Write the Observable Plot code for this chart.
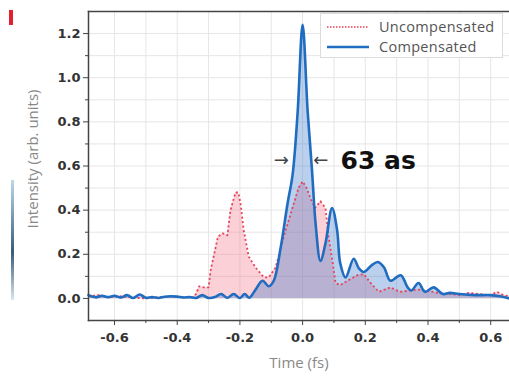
<!DOCTYPE html>
<html>
<head>
<meta charset="utf-8">
<script src="https://cdn.jsdelivr.net/npm/d3@7"></script>
<script src="https://cdn.jsdelivr.net/npm/@observablehq/plot@0.6"></script>
<style>
  html, body { margin: 0; padding: 0; background: #fff; }
  #wrap { position: relative; width: 509px; height: 376px; overflow: hidden; }
  #legend { position: absolute; left: 320px; top: 13px; width: 181px; height: 43px;
    border: 1px solid #dcdcdc; background: #fff; font-family: "Open Sans", sans-serif;
    font-size: 14.5px; letter-spacing: 0.3px; line-height: 16px; color: #555; }
  #legend .row { position: absolute; left: 6px; height: 16px; display: flex; align-items: center; }
  #legend .row span { margin-left: 10px; line-height: 16px; }
  .art1 { position: absolute; left: 9px; top: 10px; width: 4px; height: 15px; background: #e5202e; }
  .art2 { position: absolute; left: 11px; top: 180px; width: 3px; height: 120px;
    background: linear-gradient(#bcd9ea, #3a5b78 60%, #d8e6ef); }
</style>
</head>
<body>
<div id="wrap"><div class="art1"></div><div class="art2"></div></div>
<script>
// Compensated (blue) series
const compT = [-0.683,-0.66,-0.64,-0.62,-0.60,-0.58,-0.56,-0.54,-0.52,-0.50,-0.48,-0.46,-0.44,-0.42,-0.40,-0.38,-0.36,-0.34,-0.32,-0.30,-0.28,-0.26,-0.24,-0.22,-0.20,-0.185,-0.17,-0.15,-0.128,-0.108,-0.092,-0.07,-0.048,-0.032,-0.016,0,0.016,0.03,0.042,0.057,0.073,0.094,0.11,0.12,0.137,0.163,0.18,0.195,0.22,0.24,0.26,0.28,0.313,0.335,0.347,0.37,0.39,0.418,0.447,0.47,0.50,0.55,0.60,0.63,0.66];
const compV = [0.015,0.005,0.012,0.006,0.012,0.004,0.015,0.002,0.018,0.003,0.006,0.002,0.008,0.01,0.008,0.004,0.006,0.002,0.015,0.002,0.006,0.02,0.003,0.02,0.002,0.02,0.003,0.04,0.08,0.055,0.08,0.23,0.43,0.56,0.84,1.24,0.85,0.58,0.33,0.17,0.25,0.41,0.31,0.16,0.095,0.18,0.135,0.12,0.15,0.165,0.14,0.08,0.105,0.05,0.036,0.07,0.03,0.05,0.02,0.025,0.02,0.015,0.015,0.01,0.0];
// Uncompensated (red) series
const uncT = [-0.683,-0.65,-0.62,-0.58,-0.55,-0.50,-0.46,-0.42,-0.38,-0.35,-0.34,-0.33,-0.315,-0.30,-0.293,-0.27,-0.255,-0.24,-0.23,-0.214,-0.205,-0.198,-0.188,-0.172,-0.15,-0.124,-0.108,-0.086,-0.06,-0.028,-0.013,0,0.013,0.026,0.04,0.057,0.073,0.083,0.096,0.105,0.12,0.143,0.175,0.195,0.217,0.243,0.28,0.31,0.34,0.37,0.40,0.43,0.47,0.50,0.53,0.56,0.60,0.62,0.64,0.66];
const uncV = [0.01,0.015,0.005,0.01,0.005,0.0,0.005,0.01,0.005,0.005,0.02,0.055,0.05,0.05,0.13,0.28,0.295,0.286,0.40,0.48,0.48,0.43,0.31,0.19,0.14,0.096,0.095,0.14,0.28,0.43,0.50,0.53,0.50,0.45,0.41,0.44,0.41,0.28,0.16,0.07,0.06,0.08,0.105,0.11,0.07,0.03,0.05,0.03,0.035,0.04,0.035,0.025,0.02,0.015,0.025,0.02,0.015,0.03,0.015,0.01];
// Axis ticks
const xTicks = [-0.6,-0.4,-0.2,0.0,0.2,0.4,0.6];
const xMinor = [-0.5,-0.3,-0.1,0.1,0.3,0.5];
const yTicks = [0.0,0.2,0.4,0.6,0.8,1.0,1.2];
const yMinor = [0.1,0.3,0.5,0.7,0.9,1.1];
const gridX = [-0.6,-0.5,-0.4,-0.3,-0.2,-0.1,0.0,0.1,0.2,0.3,0.4,0.5,0.6];
const gridY = [-0.1,0.0,0.1,0.2,0.3,0.4,0.5,0.6,0.7,0.8,0.9,1.0,1.1,1.2];
// Annotation
const annT = [-0.068, 0.058];
const annV = [0.627, 0.627];
const annS = ["→", "←"];
const labelText = "63 as";
const labelT = 0.121;

const comp = compT.map((t, i) => ({t, v: compV[i]}));
const unc = uncT.map((t, i) => ({t, v: uncV[i]}));
const arrows = annT.map((t, i) => ({t, v: annV[i], s: annS[i]}));

const fmt = d => d.toFixed(1);
const tickFont = {fontFamily: "DejaVu Sans, sans-serif", fontWeight: "bold", fontSize: 13, fill: "#333"};

const chart = Plot.plot({
  width: 509, height: 376,
  marginTop: 11, marginBottom: 56, marginLeft: 88, marginRight: 0,
  style: {background: "#fff", fontFamily: "DejaVu Sans, sans-serif", overflow: "visible"},
  x: {domain: [-0.683, 0.66]},
  y: {domain: [-0.1, 1.3]},
  marks: [
    Plot.gridX(gridX, {stroke: "#e6e6e6", strokeOpacity: 1, strokeWidth: 1}),
    Plot.gridY(gridY, {stroke: "#e6e6e6", strokeOpacity: 1, strokeWidth: 1}),
    Plot.areaY(unc, {x: "t", y: "v", fill: "rgb(245,120,140)", fillOpacity: 0.35}),
    Plot.areaY(comp, {x: "t", y: "v", fill: "rgb(60,120,200)", fillOpacity: 0.35, curve: "catmull-rom"}),
    Plot.lineY(unc, {x: "t", y: "v", stroke: "#e8405a", strokeWidth: 1.8, strokeDasharray: "2,2.5", strokeLinecap: "butt"}),
    Plot.lineY(comp, {x: "t", y: "v", stroke: "#1f6cc0", strokeWidth: 2.6, curve: "catmull-rom"}),
    Plot.frame({anchor: "top", stroke: "#444", strokeWidth: 1.5}),
    Plot.frame({anchor: "left", stroke: "#444", strokeWidth: 1.5}),
    Plot.frame({anchor: "bottom", stroke: "#444", strokeWidth: 1.5}),
    Plot.axisX({ticks: xTicks, tickFormat: fmt, tickSize: 5, tickPadding: 7, stroke: "#444", label: null, ...tickFont}),
    Plot.axisX({ticks: xMinor, tickFormat: () => "", tickSize: 3, stroke: "#444", label: null}),
    Plot.axisY({ticks: yTicks, tickFormat: fmt, tickSize: 5, tickPadding: 3, stroke: "#444", label: null, ...tickFont}),
    Plot.axisY({ticks: yMinor, tickFormat: () => "", tickSize: 3, stroke: "#444", label: null}),
    Plot.text(["Time (fs)"], {frameAnchor: "bottom", dy: 47, fontFamily: "Open Sans, sans-serif", fontSize: 15, fill: "#888"}),
    Plot.text(["Intensity (arb. units)"], {frameAnchor: "left", textAnchor: "middle", dx: -55, dy: -7, rotate: -90, fontFamily: "Open Sans, sans-serif", fontSize: 15, fill: "#888"}),
    Plot.text(arrows, {x: "t", y: "v", text: "s", fontSize: 18, fill: "#444", fontFamily: "DejaVu Sans, sans-serif"}),
    Plot.text([labelText], {x: () => labelT, y: () => annV[0], text: d => d, textAnchor: "start", fontSize: 25, fontWeight: "bold", fill: "#111", fontFamily: "DejaVu Sans, sans-serif", dy: 1})
  ]
});

const wrap = document.getElementById("wrap");
wrap.insertBefore(chart, wrap.firstChild);
chart.style.position = "absolute"; chart.style.left = "0"; chart.style.top = "0";

const lg = document.createElement("div");
lg.id = "legend";
lg.innerHTML = `
  <div class="row" style="top:5px"><svg width="42" height="4"><line x1="0" y1="2" x2="42" y2="2" stroke="#e8405a" stroke-width="1.6" stroke-dasharray="1.5,1.5"/></svg><span>Uncompensated</span></div>
  <div class="row" style="top:25px"><svg width="42" height="4"><line x1="0" y1="2" x2="42" y2="2" stroke="#1f6cc0" stroke-width="2.6"/></svg><span>Compensated</span></div>`;
wrap.appendChild(lg);
</script>
</body>
</html>
